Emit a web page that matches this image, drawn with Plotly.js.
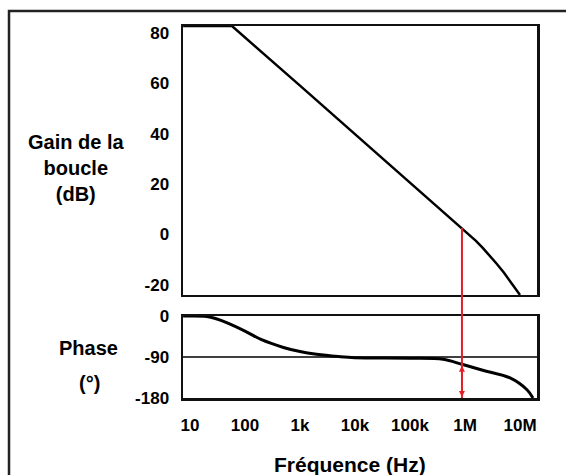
<!DOCTYPE html>
<html>
<head>
<meta charset="utf-8">
<script src="https://cdn.plot.ly/plotly-3.0.1.min.js"></script>
<style>html,body{margin:0;padding:0;background:#fff;}#chart{width:566px;height:475px;}</style>
</head>
<body>
<div id="chart"></div>
<script>
// ---- data ----
const gainFreq = [7.5, 58, 1e3, 1e4, 1e5, 8.8e5, 1.2e6, 1.58e6, 2.1e6, 2.85e6, 3.8e6, 5.12e6, 7e6, 9.2e6, 1e7];
const gainDb   = [82.8, 82.8, 59.1, 39.9, 20.7, 2.6, -0.2, -2.5, -5.3, -8.5, -11.7, -15.2, -19.2, -23.2, -24];

const phaseFreq = [7.5, 10, 20, 30, 50, 100, 200, 500, 1e3, 2e3, 5e3, 1e4, 1e5, 4e5, 8.8e5, 2.1e6, 6.6e6, 1.34e7, 1.72e7];
const phaseDeg  = [0, 0, -1, -6, -16, -33, -52, -69, -78, -84, -89, -91.5, -92.5, -95, -106, -119, -136, -162, -180];

const crossoverFreq = 8.8e5;
const crossoverGain = 2.6;
const crossoverPhase = -106;

const freqTicks = [10, 100, 1e3, 1e4, 1e5, 1e6, 1e7];
const freqTickText = ['10', '100', '1k', '10k', '100k', '1M', '10M'];
const gainTicks = [80, 60, 40, 20, 0, -20];
const phaseTicks = [0, -90, -180];

// ---- layout helpers ----
const gainRange = [-24, 82.8];
const gainDomain = [0.277, 1];
const phaseRange = [-180, 0];
const phaseDomain = [0, 0.2204];
const xRange = [0.873, 7.309];
function gainToPaper(v) {
  return gainDomain[0] + (v - gainRange[0]) / (gainRange[1] - gainRange[0]) * (gainDomain[1] - gainDomain[0]);
}

const font = {family: 'Liberation Sans, Arial, sans-serif', color: '#000'};
const tickFont = Object.assign({}, font, {size: 17, weight: 'bold'});
const titleFont = Object.assign({}, font, {size: 20, weight: 'bold'});

const traces = [
  {x: gainFreq, y: gainDb, xaxis: 'x', yaxis: 'y', mode: 'lines',
   line: {color: '#000', width: 2.5}, hoverinfo: 'skip'},
  {x: phaseFreq, y: phaseDeg, xaxis: 'x2', yaxis: 'y2', mode: 'lines',
   line: {color: '#000', width: 3, shape: 'spline', smoothing: 1}, hoverinfo: 'skip'}
];

const axisCommon = {showline: true, mirror: true, linecolor: '#111', linewidth: 2.5,
  showgrid: false, zeroline: false, ticks: 'outside', tickcolor: 'rgba(0,0,0,0)', fixedrange: true};

const layout = {
  width: 566, height: 475,
  margin: {l: 183, r: 29, t: 26, b: 77},
  paper_bgcolor: '#fff', plot_bgcolor: '#fff',
  showlegend: false,
  font: font,
  xaxis: Object.assign({}, axisCommon, {type: 'log', range: xRange, anchor: 'y', domain: [0, 1],
    showticklabels: false, ticklen: 0}),
  yaxis: Object.assign({}, axisCommon, {range: gainRange, domain: gainDomain, anchor: 'x',
    tickvals: gainTicks, ticktext: gainTicks.map(String), tickfont: tickFont, ticklen: 8}),
  xaxis2: Object.assign({}, axisCommon, {type: 'log', range: xRange, anchor: 'y2', domain: [0, 1],
    tickvals: freqTicks, ticktext: freqTickText, tickfont: tickFont, ticklen: 10}),
  yaxis2: Object.assign({}, axisCommon, {range: phaseRange, domain: phaseDomain, anchor: 'x2',
    tickvals: phaseTicks, ticktext: phaseTicks.map(String), tickfont: tickFont, ticklen: 8}),
  shapes: [
    // outer frame
    {type: 'rect', xref: 'paper', yref: 'paper', x0: -0.4915, x1: 1.6, y0: -0.5, y1: 1.0403,
     line: {color: '#222', width: 2.5}, fillcolor: 'rgba(0,0,0,0)', layer: 'below'},
    // -90 reference line
    {type: 'line', xref: 'x2 domain', yref: 'y2', x0: 0, x1: 1, y0: -90, y1: -90,
     line: {color: '#000', width: 1.5}},
    // red crossover line
    {type: 'line', xref: 'x2', yref: 'paper', x0: crossoverFreq, x1: crossoverFreq,
     y0: 0, y1: gainToPaper(crossoverGain), line: {color: '#e41e26', width: 2}}
  ],
  annotations: [
    {text: 'Gain de la<br>boucle<br>(dB)', xref: 'paper', yref: 'paper', x: -0.302, y: 0.618,
     xanchor: 'center', yanchor: 'middle', showarrow: false, font: titleFont, align: 'center'},
    {text: 'Phase', xref: 'paper', yref: 'paper', x: -0.268, y: (398 - 348) / 372,
     xanchor: 'center', yanchor: 'middle', showarrow: false, font: titleFont},
    {text: '(°)', xref: 'paper', yref: 'paper', x: -0.265, y: (398 - 383) / 372,
     xanchor: 'center', yanchor: 'middle', showarrow: false, font: titleFont},
    {text: 'Fréquence (Hz)', xref: 'paper', yref: 'paper', x: 0.472, y: -0.18,
     xanchor: 'center', yanchor: 'middle', showarrow: false, font: Object.assign({}, titleFont, {size: 21})},
    {text: '', xref: 'x2', yref: 'y2', x: Math.log10(crossoverFreq), y: -178,
     axref: 'x2', ayref: 'y2', ax: Math.log10(crossoverFreq), ay: crossoverPhase,
     showarrow: true, arrowhead: 2, arrowside: 'end+start', arrowsize: 0.8, arrowwidth: 1.5, arrowcolor: '#e41e26'}
  ]
};

Plotly.newPlot('chart', traces, layout, {displayModeBar: false, staticPlot: true});
</script>
</body>
</html>
